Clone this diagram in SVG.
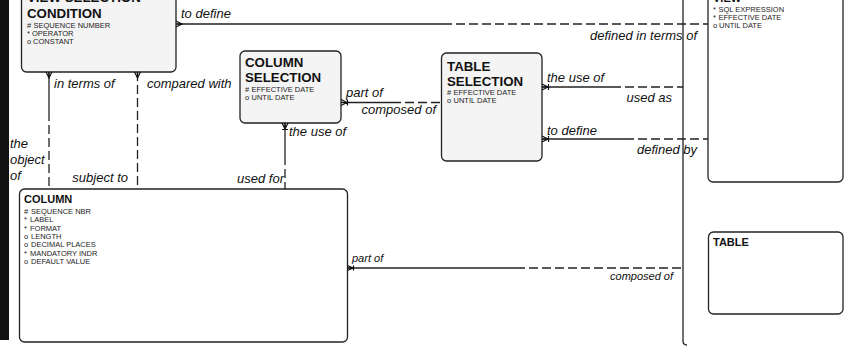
<svg xmlns="http://www.w3.org/2000/svg" width="864" height="346" viewBox="0 0 864 346">
<style>
.box{stroke:#222;stroke-width:1.3}
.g{fill:#f4f4f4}
.w{fill:#fff}
.t{font-family:"Liberation Sans",Arial,sans-serif;font-weight:bold;fill:#111}
.a{font-family:"Liberation Sans",Arial,sans-serif;font-size:7.5px;fill:#222}
.l{font-family:"Liberation Sans",Arial,sans-serif;font-style:italic;font-size:13px;fill:#111}
.s{font-family:"Liberation Sans",Arial,sans-serif;font-style:italic;font-size:11px;fill:#111}
.ln{fill:none;stroke:#222;stroke-width:1.3}
.d{stroke-dasharray:9,4}
.cf{fill:none;stroke:#111;stroke-width:1.2}
</style>
<rect x="0" y="0" width="864" height="346" fill="#fff"/>
<rect x="0" y="0" width="9" height="340" fill="#111"/>
<path class="ln" d="M683,-2 L683,341 Q683,345 687,345"/>

<g id="view-selection-condition">
<rect class="box g" x="21.5" y="-20" width="154.5" height="92" rx="5"/>
<text class="t" font-size="13.3" x="27" y="2">VIEW SELECTION</text>
<text class="t" font-size="13.3" x="27" y="18">CONDITION</text>
<text class="a" x="27" y="28">#</text><text class="a" x="33.5" y="28">SEQUENCE NUMBER</text>
<text class="a" x="27" y="36">*</text><text class="a" x="32" y="36">OPERATOR</text>
<text class="a" x="27" y="44">o</text><text class="a" x="33" y="44">CONSTANT</text>
</g>

<g id="view">
<rect class="box w" x="708" y="-15" width="135" height="197" rx="5"/>
<text class="t" font-size="11" x="713" y="2">VIEW</text>
<text class="a" x="713" y="12">*</text><text class="a" x="718.5" y="12">SQL EXPRESSION</text>
<text class="a" x="713" y="20">*</text><text class="a" x="718.5" y="20">EFFECTIVE DATE</text>
<text class="a" x="713" y="28">o</text><text class="a" x="719" y="28">UNTIL DATE</text>
</g>

<g id="column-selection">
<rect class="box g" x="240" y="51" width="101" height="72" rx="5"/>
<text class="t" font-size="13.3" x="245" y="67">COLUMN</text>
<text class="t" font-size="13.3" x="245" y="82">SELECTION</text>
<text class="a" x="245" y="92">#</text><text class="a" x="251.5" y="92">EFFECTIVE DATE</text>
<text class="a" x="245" y="100">o</text><text class="a" x="251.5" y="100">UNTIL DATE</text>
</g>

<g id="table-selection">
<rect class="box g" x="441.5" y="53" width="100.5" height="108" rx="5"/>
<text class="t" font-size="13.3" x="447" y="71">TABLE</text>
<text class="t" font-size="13.3" x="447" y="86">SELECTION</text>
<text class="a" x="447" y="95">#</text><text class="a" x="453.5" y="95">EFFECTIVE DATE</text>
<text class="a" x="447" y="103">o</text><text class="a" x="453.5" y="103">UNTIL DATE</text>
</g>

<g id="column">
<rect class="box w" x="19.5" y="189" width="328" height="153" rx="5"/>
<text class="t" font-size="11" x="24" y="203">COLUMN</text>
<text class="a" x="24" y="214">#</text><text class="a" x="31" y="214">SEQUENCE NBR</text>
<text class="a" x="24" y="222.3">*</text><text class="a" x="30" y="222.3">LABEL</text>
<text class="a" x="24" y="230.6">*</text><text class="a" x="30" y="230.6">FORMAT</text>
<text class="a" x="24" y="238.9">o</text><text class="a" x="31" y="238.9">LENGTH</text>
<text class="a" x="24" y="247.2">o</text><text class="a" x="31" y="247.2">DECIMAL PLACES</text>
<text class="a" x="24" y="255.5">*</text><text class="a" x="30" y="255.5">MANDATORY INDR</text>
<text class="a" x="24" y="263.8">o</text><text class="a" x="31" y="263.8">DEFAULT VALUE</text>
</g>

<g id="table">
<rect class="box w" x="708.5" y="232" width="134.5" height="82" rx="5"/>
<text class="t" font-size="11" x="713" y="246">TABLE</text>
</g>

<g id="connectors">
<path class="ln" d="M176,24 L443,24"/>
<path class="ln d" d="M443,24 L708,24"/>
<path class="cf" d="M176,21 L182,24 L176,27 M176,24 L182,24"/>
<text class="l" x="181" y="18">to define</text>
<text class="l" x="697" y="40" text-anchor="end">defined in terms  of</text>

<path class="ln" d="M49,72 L49,112"/>
<path class="ln d" d="M49,112 L49,189"/>
<path class="cf" d="M46,72 L49,78 L52,72 M49,72 L49,78"/>
<text class="l" x="54" y="88">in terms of</text>
<text class="l" x="10" y="148">the</text>
<text class="l" x="10" y="164">object</text>
<text class="l" x="10" y="180">of</text>

<path class="ln d" d="M137.5,72 L137.5,189"/>
<path class="cf" d="M134.5,72 L137.5,78 L140.5,72 M137.5,72 L137.5,78"/>
<text class="l" x="147" y="88">compared with</text>
<text class="l" x="128" y="182" text-anchor="end">subject to</text>

<path class="ln" d="M285,123 L285,156"/>
<path class="ln d" d="M285,156 L285,189"/>
<path class="cf" d="M282,123 L285,129 L288,123 M285,123 L285,129 M282,129.5 L288,129.5"/>
<text class="l" x="289" y="136">the use of</text>
<text class="l" x="284" y="183" text-anchor="end">used for</text>

<path class="ln" d="M341,102.5 L392,102.5"/>
<path class="ln d" d="M392,102.5 L441,102.5"/>
<path class="cf" d="M341,99.5 L347,102.5 L341,105.5 M341,102.5 L347,102.5 M347.5,99.5 L347.5,105.5"/>
<text class="l" x="346" y="97">part of</text>
<text class="l" x="436" y="114" text-anchor="end">composed of</text>

<path class="ln" d="M542,87 L612,87"/>
<path class="ln d" d="M612,87 L683,87"/>
<path class="cf" d="M542,84 L548,87 L542,90 M542,87 L548,87 M548.5,84 L548.5,90"/>
<text class="l" x="547" y="82">the use of</text>
<text class="l" x="672" y="102" text-anchor="end">used as</text>

<path class="ln" d="M542,139 L625,139"/>
<path class="ln d" d="M625,139 L708,139"/>
<path class="cf" d="M542,136 L548,139 L542,142 M542,139 L548,139 M548.5,136 L548.5,142"/>
<text class="l" x="547" y="135">to define</text>
<text class="l" x="697" y="154" text-anchor="end">defined  by</text>

<path class="ln" d="M347.5,268 L516,268"/>
<path class="ln d" d="M516,268 L683,268"/>
<path class="cf" d="M347.5,265.5 L353,268 L347.5,270.5 M347.5,268 L353,268 M353.5,265.5 L353.5,270.5"/>
<text class="s" x="352" y="262">part of</text>
<text class="s" x="673" y="280" text-anchor="end">composed of</text>
</g>
</svg>
